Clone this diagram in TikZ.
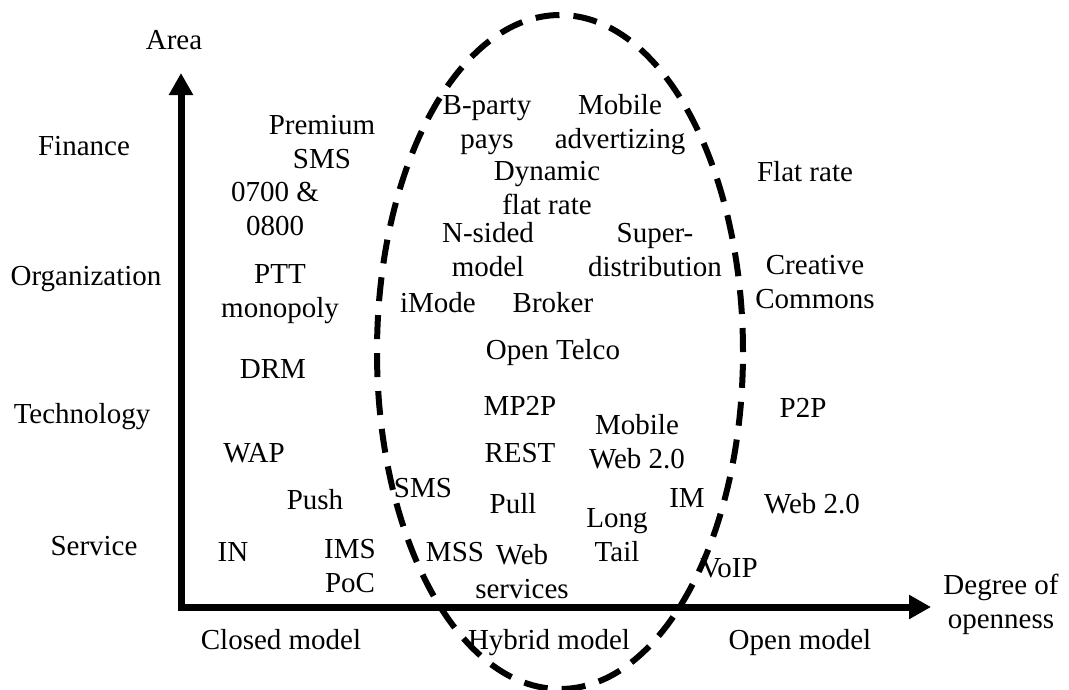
\documentclass[tikz,border=0pt]{standalone}
\usepackage{fontspec}
\setmainfont{Liberation Serif}
\usetikzlibrary{arrows.meta}

\begin{document}
\begin{tikzpicture}[
  x=1pt, y=-1pt,
  % labels are placed by the baseline of their last line
  lbl/.style={anchor=base, align=center, inner sep=0pt,
              font=\fontsize{29}{34}\selectfont},
  axis/.style={line width=7pt, line join=miter,
               {Triangle[length=22pt,width=23pt]}-{Triangle[length=22pt,width=23pt]}},
  hybridzone/.style={line width=6pt, dash pattern=on 24pt off 14pt}
]
\useasboundingbox (0,0) rectangle (1069,689);

% axes
\coordinate (ytip)   at (181,73);
\coordinate (origin) at (181,607);
\coordinate (xtip)   at (931,607);
\draw[axis] (ytip) -- (origin) -- (xtip);

% dashed region of the hybrid model
\draw[hybridzone] (560,352) ellipse [x radius=183pt, y radius=337pt];

% axis titles
\node[lbl] (area)   at (174,49)  {Area};
\node[lbl] (degree) at (1001,628) {Degree of\\openness};

% areas on the vertical axis
\node[lbl] (fin)  at (84,155)  {Finance};
\node[lbl] (org)  at (86,285)  {Organization};
\node[lbl] (tech) at (82,423)  {Technology};
\node[lbl] (serv) at (94,555)  {Service};

% models on the horizontal axis
\node[lbl] (closed) at (281,649) {Closed model};
\node[lbl] (hybrid) at (549,649) {Hybrid model};
\node[lbl] (open)   at (800,649) {Open model};

% closed model
\node[lbl] (premsms) at (322,168) {Premium\\SMS};
\node[lbl] (numbers) at (275,235) {0700 \&\\0800};
\node[lbl] (ptt)     at (280,317) {PTT\\monopoly};
\node[lbl] (drm)     at (273,378) {DRM};
\node[lbl] (wap)     at (254,462) {WAP};
\node[lbl] (push)    at (315,509) {Push};
\node[lbl] (in)      at (233,561) {IN};
\node[lbl] (imspoc)  at (350,592) {IMS\\PoC};

% hybrid model
\node[lbl] (bparty)  at (487,148) {B-party\\pays};
\node[lbl] (mobadv)  at (620,148) {Mobile\\advertizing};
\node[lbl] (dynflat) at (547,214) {Dynamic\\flat rate};
\node[lbl] (nsided)  at (488,276) {N-sided\\model};
\node[lbl] (superd)  at (655,276) {Super-\\distribution};
\node[lbl] (imode)   at (438,312) {iMode};
\node[lbl] (broker)  at (553,312) {Broker};
\node[lbl] (telco)   at (553,359) {Open Telco};
\node[lbl] (mp2p)    at (520,415) {MP2P};
\node[lbl] (rest)    at (520,462) {REST};
\node[lbl] (mobweb)  at (637,468) {Mobile\\Web 2.0};
\node[lbl] (sms)     at (423,497) {SMS};
\node[lbl] (pull)    at (513,513) {Pull};
\node[lbl] (im)      at (687,507) {IM};
\node[lbl] (longt)   at (617,561) {Long\\Tail};
\node[lbl] (mss)     at (455,561) {MSS};
\node[lbl] (websvc)  at (522,598) {Web\\services};
\node[lbl] (voip)    at (729,577) {VoIP};

% open model
\node[lbl] (flat)    at (805,181) {Flat rate};
\node[lbl] (cc)      at (815,308) {Creative\\Commons};
\node[lbl] (p2p)     at (803,417) {P2P};
\node[lbl] (web2)    at (812,513) {Web 2.0};
\end{tikzpicture}
\end{document}
